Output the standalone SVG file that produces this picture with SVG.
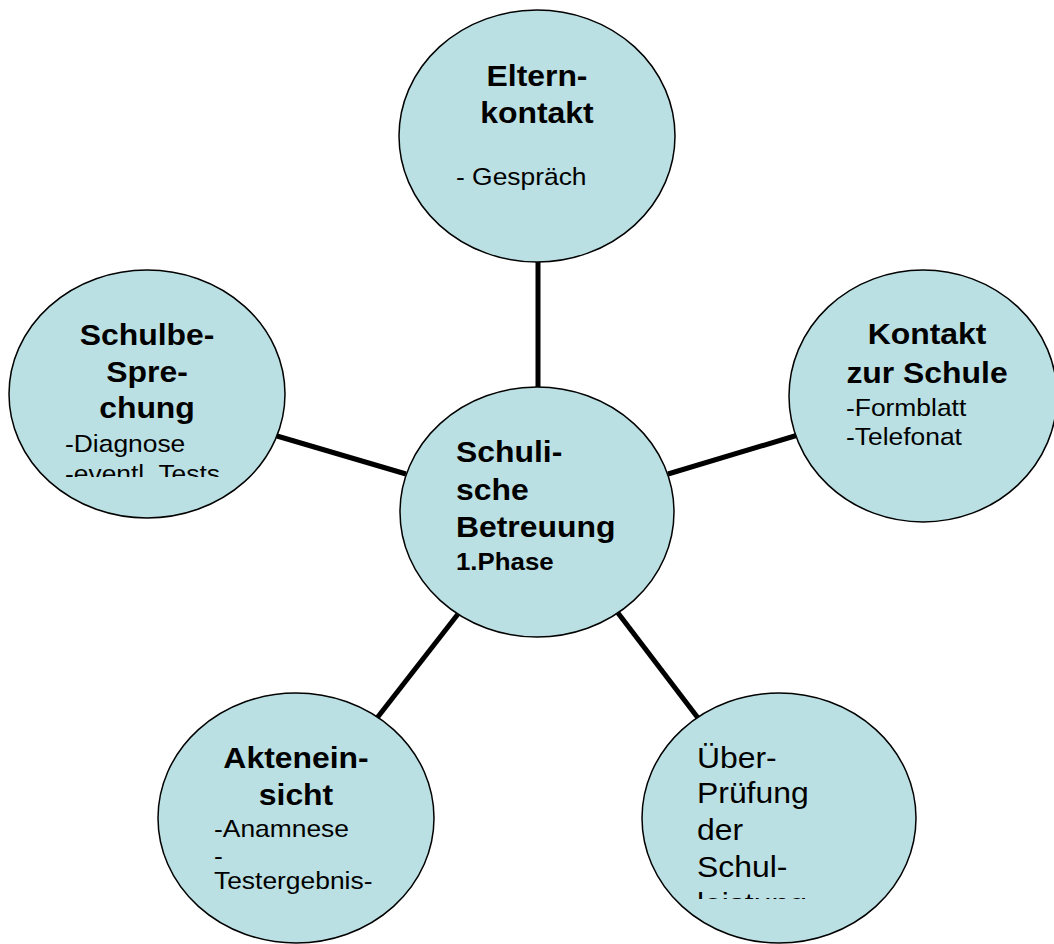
<svg xmlns="http://www.w3.org/2000/svg" width="1054" height="944" viewBox="0 0 1054 944">
<style>
.node{fill:#bbe0e3;stroke:#000;stroke-width:1.5}
.conn{stroke:#000;stroke-width:5;fill:none}
text{font-family:"Liberation Sans",Arial,sans-serif;fill:#000}
.h{font-size:29px;font-weight:bold}
.hs{font-size:23.5px;font-weight:bold}
.r{font-size:24px}
.rl{font-size:29px}
.m{text-anchor:middle}
</style>
<defs>
<clipPath id="clipL" clipPathUnits="userSpaceOnUse"><rect x="0" y="0" width="300" height="477"/></clipPath>
<clipPath id="clipBR" clipPathUnits="userSpaceOnUse"><rect x="600" y="680" width="330" height="219"/></clipPath>
</defs>
<rect width="1054" height="944" fill="#fff"/>
<g id="connectors">
<line class="conn" x1="538" y1="262" x2="538" y2="388"/>
<line class="conn" x1="277" y1="436" x2="406" y2="474"/>
<line class="conn" x1="668" y1="474" x2="798" y2="435"/>
<line class="conn" x1="458" y1="614" x2="377" y2="718"/>
<line class="conn" x1="618" y1="613" x2="698" y2="718"/>
</g>
<g id="node-eltern">
<ellipse class="node" cx="537" cy="136" rx="138" ry="126"/>
<text class="h m" transform="translate(537,86) scale(1.1,1)">Eltern-</text>
<text class="h m" transform="translate(537,123) scale(1.1,1)">kontakt</text>
<text class="r" transform="translate(456,185) scale(1.1,1)">- Gespräch</text>
</g>
<g id="node-schulbesprechung">
<ellipse class="node" cx="147" cy="394" rx="138" ry="124"/>
<text class="h m" transform="translate(147,345) scale(1.1,1)">Schulbe-</text>
<text class="h m" transform="translate(147,382) scale(1.1,1)">Spre-</text>
<text class="h m" transform="translate(147,418) scale(1.1,1)">chung</text>
<g clip-path="url(#clipL)">
<text class="r" transform="translate(65,452) scale(1.1,1)">-Diagnose</text>
<text class="r" transform="translate(65,482) scale(1.1,1)">-eventl. Tests</text>
</g>
</g>
<g id="node-kontakt">
<ellipse class="node" cx="923" cy="396" rx="134" ry="126"/>
<text class="h m" transform="translate(927,344) scale(1.1,1)">Kontakt</text>
<text class="h m" transform="translate(927,383) scale(1.1,1)">zur Schule</text>
<text class="r" transform="translate(846,416) scale(1.1,1)">-Formblatt</text>
<text class="r" transform="translate(846,445) scale(1.1,1)">-Telefonat</text>
</g>
<g id="node-center">
<ellipse class="node" cx="537" cy="512" rx="137" ry="125"/>
<text class="h" transform="translate(456,462) scale(1.1,1)">Schuli-</text>
<text class="h" transform="translate(456,500) scale(1.1,1)">sche</text>
<text class="h" transform="translate(456,537) scale(1.1,1)">Betreuung</text>
<text class="hs" transform="translate(456,570) scale(1.1,1)">1.Phase</text>
</g>
<g id="node-akteneinsicht">
<ellipse class="node" cx="296" cy="818" rx="138" ry="125"/>
<text class="h m" transform="translate(296,768) scale(1.1,1)">Aktenein-</text>
<text class="h m" transform="translate(296,805) scale(1.1,1)">sicht</text>
<text class="r" transform="translate(214,837) scale(1.1,1)">-Anamnese</text>
<text class="r" transform="translate(214,864) scale(1.1,1)">-</text>
<text class="r" transform="translate(214,889) scale(1.1,1)">Testergebnis-</text>
</g>
<g id="node-ueberpruefung">
<ellipse class="node" cx="779" cy="818" rx="137" ry="125"/>
<g clip-path="url(#clipBR)">
<text class="rl" transform="translate(697,768) scale(1.1,1)">Über-</text>
<text class="rl" transform="translate(697,803) scale(1.1,1)">Prüfung</text>
<text class="rl" transform="translate(697,840) scale(1.1,1)">der</text>
<text class="rl" transform="translate(697,877) scale(1.1,1)">Schul-</text>
<text class="rl" transform="translate(697,914) scale(1.1,1)">leistung</text>
</g>
</g>
</svg>
